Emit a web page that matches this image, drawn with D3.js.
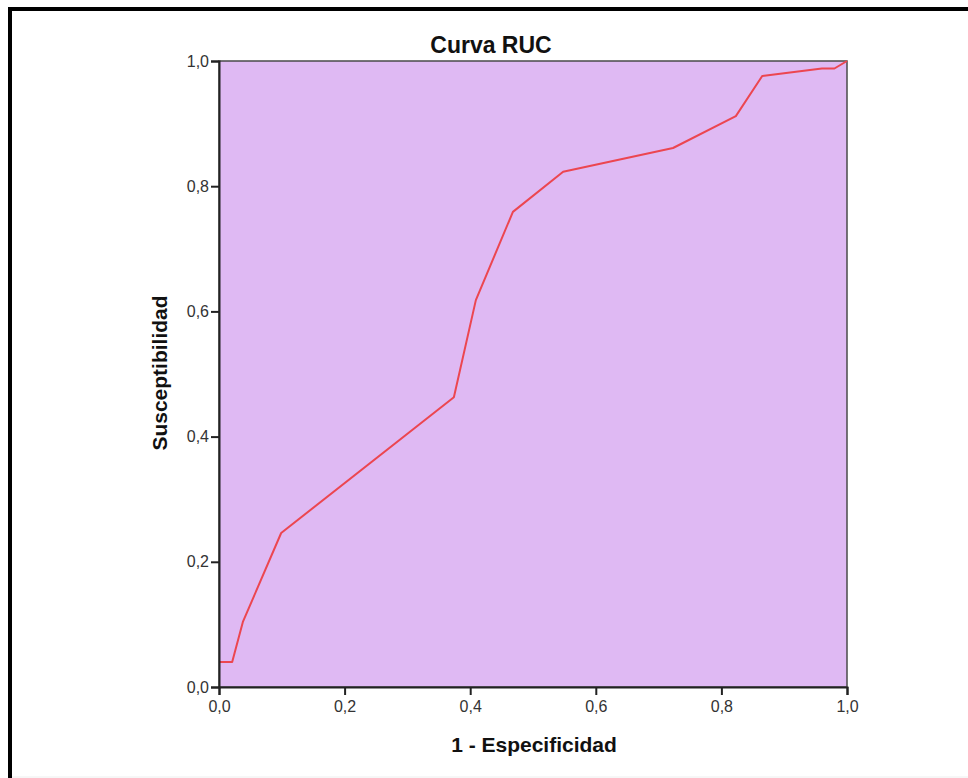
<!DOCTYPE html>
<html>
<head>
<meta charset="utf-8">
<script src="https://cdn.jsdelivr.net/npm/d3@7"></script>
<style>
  html, body { margin: 0; padding: 0; background: #fff; }
  svg { display: block; }
</style>
</head>
<body>
<svg id="chart" width="968" height="778"></svg>
<script>
const title = "Curva RUC";
const xLabel = "1 - Especificidad";
const yLabel = "Susceptibilidad";
const tickValues = [0, 0.2, 0.4, 0.6, 0.8, 1.0];
const tickLabels = ["0,0", "0,2", "0,4", "0,6", "0,8", "1,0"];
const fpr = [0.000, 0.021, 0.038, 0.099, 0.374, 0.409, 0.468, 0.548, 0.723, 0.823, 0.865, 0.960, 0.980, 1.000];
const tpr = [0.040, 0.040, 0.104, 0.246, 0.463, 0.618, 0.759, 0.823, 0.861, 0.912, 0.976, 0.988, 0.988, 1.000];

const svg = d3.select("#chart");
const L = 219, R = 847, T = 61, B = 687;
const x = d3.scaleLinear().domain([0, 1]).range([L, R]);
const y = d3.scaleLinear().domain([0, 1]).range([B, T]);
const FONT = "Arial, 'Liberation Sans', sans-serif";

// outer frame
svg.append("line").attr("x1", 10).attr("x2", 10).attr("y1", 7).attr("y2", 778)
  .attr("stroke", "#000").attr("stroke-width", 4);
svg.append("line").attr("x1", 8).attr("x2", 968).attr("y1", 9).attr("y2", 9)
  .attr("stroke", "#000").attr("stroke-width", 4);
svg.append("line").attr("x1", 12).attr("x2", 968).attr("y1", 777).attr("y2", 777)
  .attr("stroke", "#eeeeee").attr("stroke-width", 1);

// plot background
svg.append("rect").attr("x", L).attr("y", T).attr("width", R - L).attr("height", B - T)
  .attr("fill", "#dfb9f3").attr("stroke", "#4a4a4a").attr("stroke-width", 1.5);

// curve
const line = d3.line().x((d, i) => x(fpr[i])).y((d, i) => y(tpr[i]));
svg.append("path").datum(fpr).attr("d", line)
  .attr("fill", "none").attr("stroke", "#ec4650").attr("stroke-width", 2)
  .attr("stroke-linejoin", "round");

// axes
const fmt = d => tickLabels[tickValues.indexOf(d)];
const xAxis = d3.axisBottom(x).tickValues(tickValues).tickFormat(fmt).tickSize(8).tickPadding(6);
const yAxis = d3.axisLeft(y).tickValues(tickValues).tickFormat(fmt).tickSize(8).tickPadding(2);

const gx = svg.append("g").attr("transform", `translate(0,${B})`).call(xAxis);
const gy = svg.append("g").attr("transform", `translate(${L},0)`).call(yAxis);
[gx, gy].forEach(g => {
  g.attr("font-family", FONT).attr("font-size", 16);
  g.select(".domain").attr("stroke", "#222").attr("stroke-width", 2);
  g.selectAll(".tick line").attr("stroke", "#222").attr("stroke-width", 2);
  g.selectAll(".tick text").attr("fill", "#333");
});

// title and axis labels
svg.append("text").attr("x", 491).attr("y", 53).attr("text-anchor", "middle")
  .attr("font-family", FONT).attr("font-size", 23)
  .attr("font-weight", "bold").attr("fill", "#111").text(title);
svg.append("text").attr("x", 534).attr("y", 752).attr("text-anchor", "middle")
  .attr("font-family", FONT).attr("font-size", 21)
  .attr("font-weight", "bold").attr("fill", "#111").text(xLabel);
svg.append("text").attr("transform", "translate(167,373) rotate(-90)").attr("text-anchor", "middle")
  .attr("font-family", FONT).attr("font-size", 21)
  .attr("font-weight", "bold").attr("fill", "#111").text(yLabel);
</script>
</body>
</html>
